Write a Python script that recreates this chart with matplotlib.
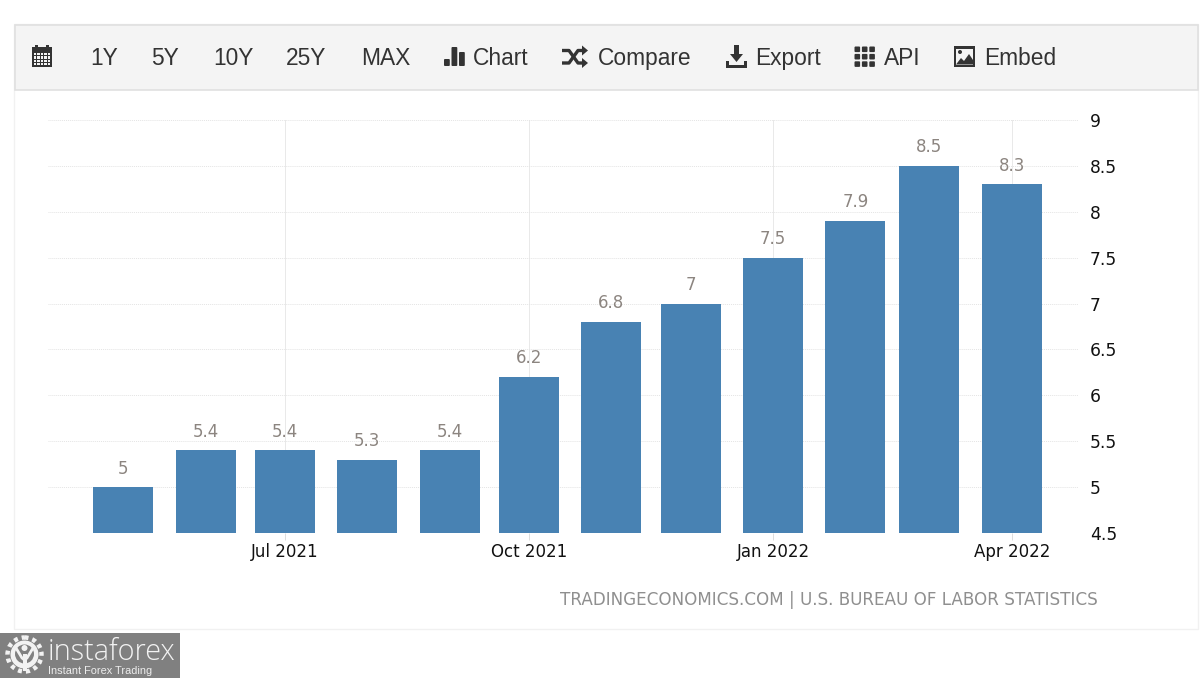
import matplotlib
matplotlib.use("Agg")
import matplotlib.pyplot as plt
import matplotlib.dates as mdates
from matplotlib.patches import Rectangle, Circle, Polygon, FancyBboxPatch
from datetime import date

months = ["2021-05-01", "2021-06-01", "2021-07-01", "2021-08-01", "2021-09-01", "2021-10-01",
          "2021-11-01", "2021-12-01", "2022-01-01", "2022-02-01", "2022-03-01", "2022-04-01"]
values = [5, 5.4, 5.4, 5.3, 5.4, 6.2, 6.8, 7, 7.5, 7.9, 8.5, 8.3]
value_labels = ["5", "5.4", "5.4", "5.3", "5.4", "6.2", "6.8", "7", "7.5", "7.9", "8.5", "8.3"]
y_ticks = [4.5, 5, 5.5, 6, 6.5, 7, 7.5, 8, 8.5, 9]
y_tick_labels = ["4.5", "5", "5.5", "6", "6.5", "7", "7.5", "8", "8.5", "9"]
x_ticks = ["2021-07-01", "2021-10-01", "2022-01-01", "2022-04-01"]
x_tick_labels = ["Jul 2021", "Oct 2021", "Jan 2022", "Apr 2022"]
toolbar_items = ["1Y", "5Y", "10Y", "25Y", "MAX", "Chart", "Compare", "Export", "API", "Embed"]
toolbar_x = [90, 151, 213, 286, 361, 473, 598, 755, 884, 984]
source_text = "TRADINGECONOMICS.COM | U.S. BUREAU OF LABOR STATISTICS"

W, H = 1200, 678
fig = plt.figure(figsize=(W / 100, H / 100), dpi=100, facecolor="white")

bg = fig.add_axes([0, 0, 1, 1], zorder=0)
bg.set_xlim(0, W); bg.set_ylim(H, 0); bg.axis("off")
bg.add_patch(Rectangle((14, 24), 1184, 605, fc="white", ec="#f1f1f1", lw=1))
bg.add_patch(Rectangle((14.5, 24.5), 1183, 65, fc="#f4f4f4", ec="#e0e0e0", lw=1.2))

FT = ["Liberation Sans", "DejaVu Sans"]
for lab, x in zip(toolbar_items, toolbar_x):
    bg.text(x, 65, lab, family=FT, fontsize=16.4, color="#333333", ha="left", va="baseline")

ic = "#333333"
# calendar icon
bg.add_patch(Rectangle((32, 47), 20, 20, fc=ic, ec="none"))
bg.add_patch(Rectangle((35, 44.5), 3, 4, fc=ic)); bg.add_patch(Rectangle((46, 44.5), 3, 4, fc=ic))
for r in range(4):
    for c in range(5):
        bg.add_patch(Rectangle((33.6 + c * 3.6, 53 + r * 3.4), 2.4, 2.2, fc="#f4f4f4", ec="none"))
# bars icon
for x0, top_y in [(444, 59), (451.5, 47), (459, 52)]:
    bg.add_patch(FancyBboxPatch((x0 + 1, top_y + 1), 3.8, 66 - top_y - 2, boxstyle="round,pad=1", fc=ic, ec="none"))
# shuffle icon
bg.plot([562, 569, 578, 584], [50.5, 50.5, 63, 63], color=ic, lw=2.4, solid_capstyle="butt")
bg.plot([562, 569, 578, 584], [63, 63, 50.5, 50.5], color=ic, lw=2.4, solid_capstyle="butt")
bg.add_patch(Polygon([[582, 45.5], [588, 50.5], [582, 55.5]], fc=ic))
bg.add_patch(Polygon([[582, 58], [588, 63], [582, 68]], fc=ic))
# download icon
bg.add_patch(Rectangle((734, 44.5), 5, 11, fc=ic))
bg.add_patch(Polygon([[730, 54], [743, 54], [736.5, 62]], fc=ic))
bg.add_patch(Polygon([[726, 61], [729, 61], [729, 65], [744, 65], [744, 61], [747, 61], [747, 68], [726, 68]], fc=ic))
# grid icon
for r in range(3):
    for c in range(3):
        bg.add_patch(FancyBboxPatch((855.5 + c * 7.4, 47.5 + r * 7.4), 3.6, 3.6, boxstyle="round,pad=1", fc=ic, ec="none"))
# image icon
bg.add_patch(Rectangle((954, 46), 21, 21, fc=ic))
bg.add_patch(Rectangle((956, 48.5), 17, 16, fc="#f4f4f4"))
bg.add_patch(Polygon([[956, 64.5], [961, 58], [964, 61], [969, 54], [973, 60], [973, 64.5]], fc=ic))
bg.add_patch(Circle((960, 52), 2, fc=ic))

# Chart
x0, x1, ytop, ybot = 48, 1078, 120, 533
ax = fig.add_axes([x0 / W, 1 - ybot / H, (x1 - x0) / W, (ybot - ytop) / H], zorder=1)
ax.patch.set_alpha(0)
dates = [date.fromisoformat(m) for m in months]
nums = mdates.date2num(dates)
px_per_day = (1011.7 - 123.4) / (nums[-1] - nums[0])
ax.set_xlim(nums[0] - (123.4 - x0) / px_per_day, nums[-1] + (x1 - 1011.7) / px_per_day)
ax.set_ylim(4.5, 9)
ax.bar(nums, [v - 4.5 for v in values], bottom=4.5, width=60 / px_per_day, color="#4882b3", zorder=3, lw=0)
CF = "DejaVu Sans"
for n, v, s in zip(nums, values, value_labels):
    ax.annotate(s, (n, v), xytext=(0, 9.5), textcoords="offset pixels", ha="center", va="bottom",
                family=CF, fontsize=12, color="#8c8580", zorder=4)
ax.set_yticks(y_ticks, y_tick_labels, family=CF, fontsize=12.3, color="#111111")
ax.set_xticks(mdates.date2num([date.fromisoformat(d) for d in x_ticks]), x_tick_labels,
              family=CF, fontsize=12, color="#111111")
ax.yaxis.tick_right()
ax.tick_params(axis="y", length=0, pad=8.5)
ax.tick_params(axis="x", length=5, width=0.7, color="#dddddd", pad=2)
ax.grid(True, color="#e9e9e9", lw=0.7, zorder=0)
ax.grid(True, axis="y", color="#e4e4e4", lw=0.7, ls=(0, (1, 1)))
ax.set_axisbelow(True)
for s in ax.spines.values():
    s.set_visible(False)

bg.text(1098, 600, source_text, family=CF, fontsize=12.1, color="#8f8f8f", ha="right", va="center")

# Watermark
top = fig.add_axes([0, 0, 1, 1], zorder=2)
top.set_xlim(0, W); top.set_ylim(H, 0); top.axis("off"); top.patch.set_alpha(0)
top.add_patch(Rectangle((0, 633), 180, 45, fc="#808080", ec="none"))
gear = "#f2f2f2"
top.add_patch(Circle((24.5, 654.5), 14, fc=gear, ec="none"))
top.add_patch(Circle((24.5, 654.5), 17, fc="none", ec=gear, lw=3.2, ls=(0, (0.9, 0.9))))
top.add_patch(Circle((24.5, 654), 9.5, fc="#808080", ec="none"))
top.add_patch(Rectangle((22.5, 654), 4, 17, fc=gear))
top.add_patch(Circle((24.5, 648), 3, fc=gear))
top.plot([16, 22, 24.5, 27, 33], [648, 658, 660, 658, 648], color=gear, lw=2)
top.text(48, 659.5, "instaforex", family="Open Sans", fontsize=20.8, color="#f2f2f2", ha="left", va="baseline", fontweight="light")
top.text(48.5, 670.5, "Instant Forex Trading", family="Liberation Sans", fontsize=7.9, color="#ececec", ha="left", va="center")

fig.savefig("out.png", dpi=100)
